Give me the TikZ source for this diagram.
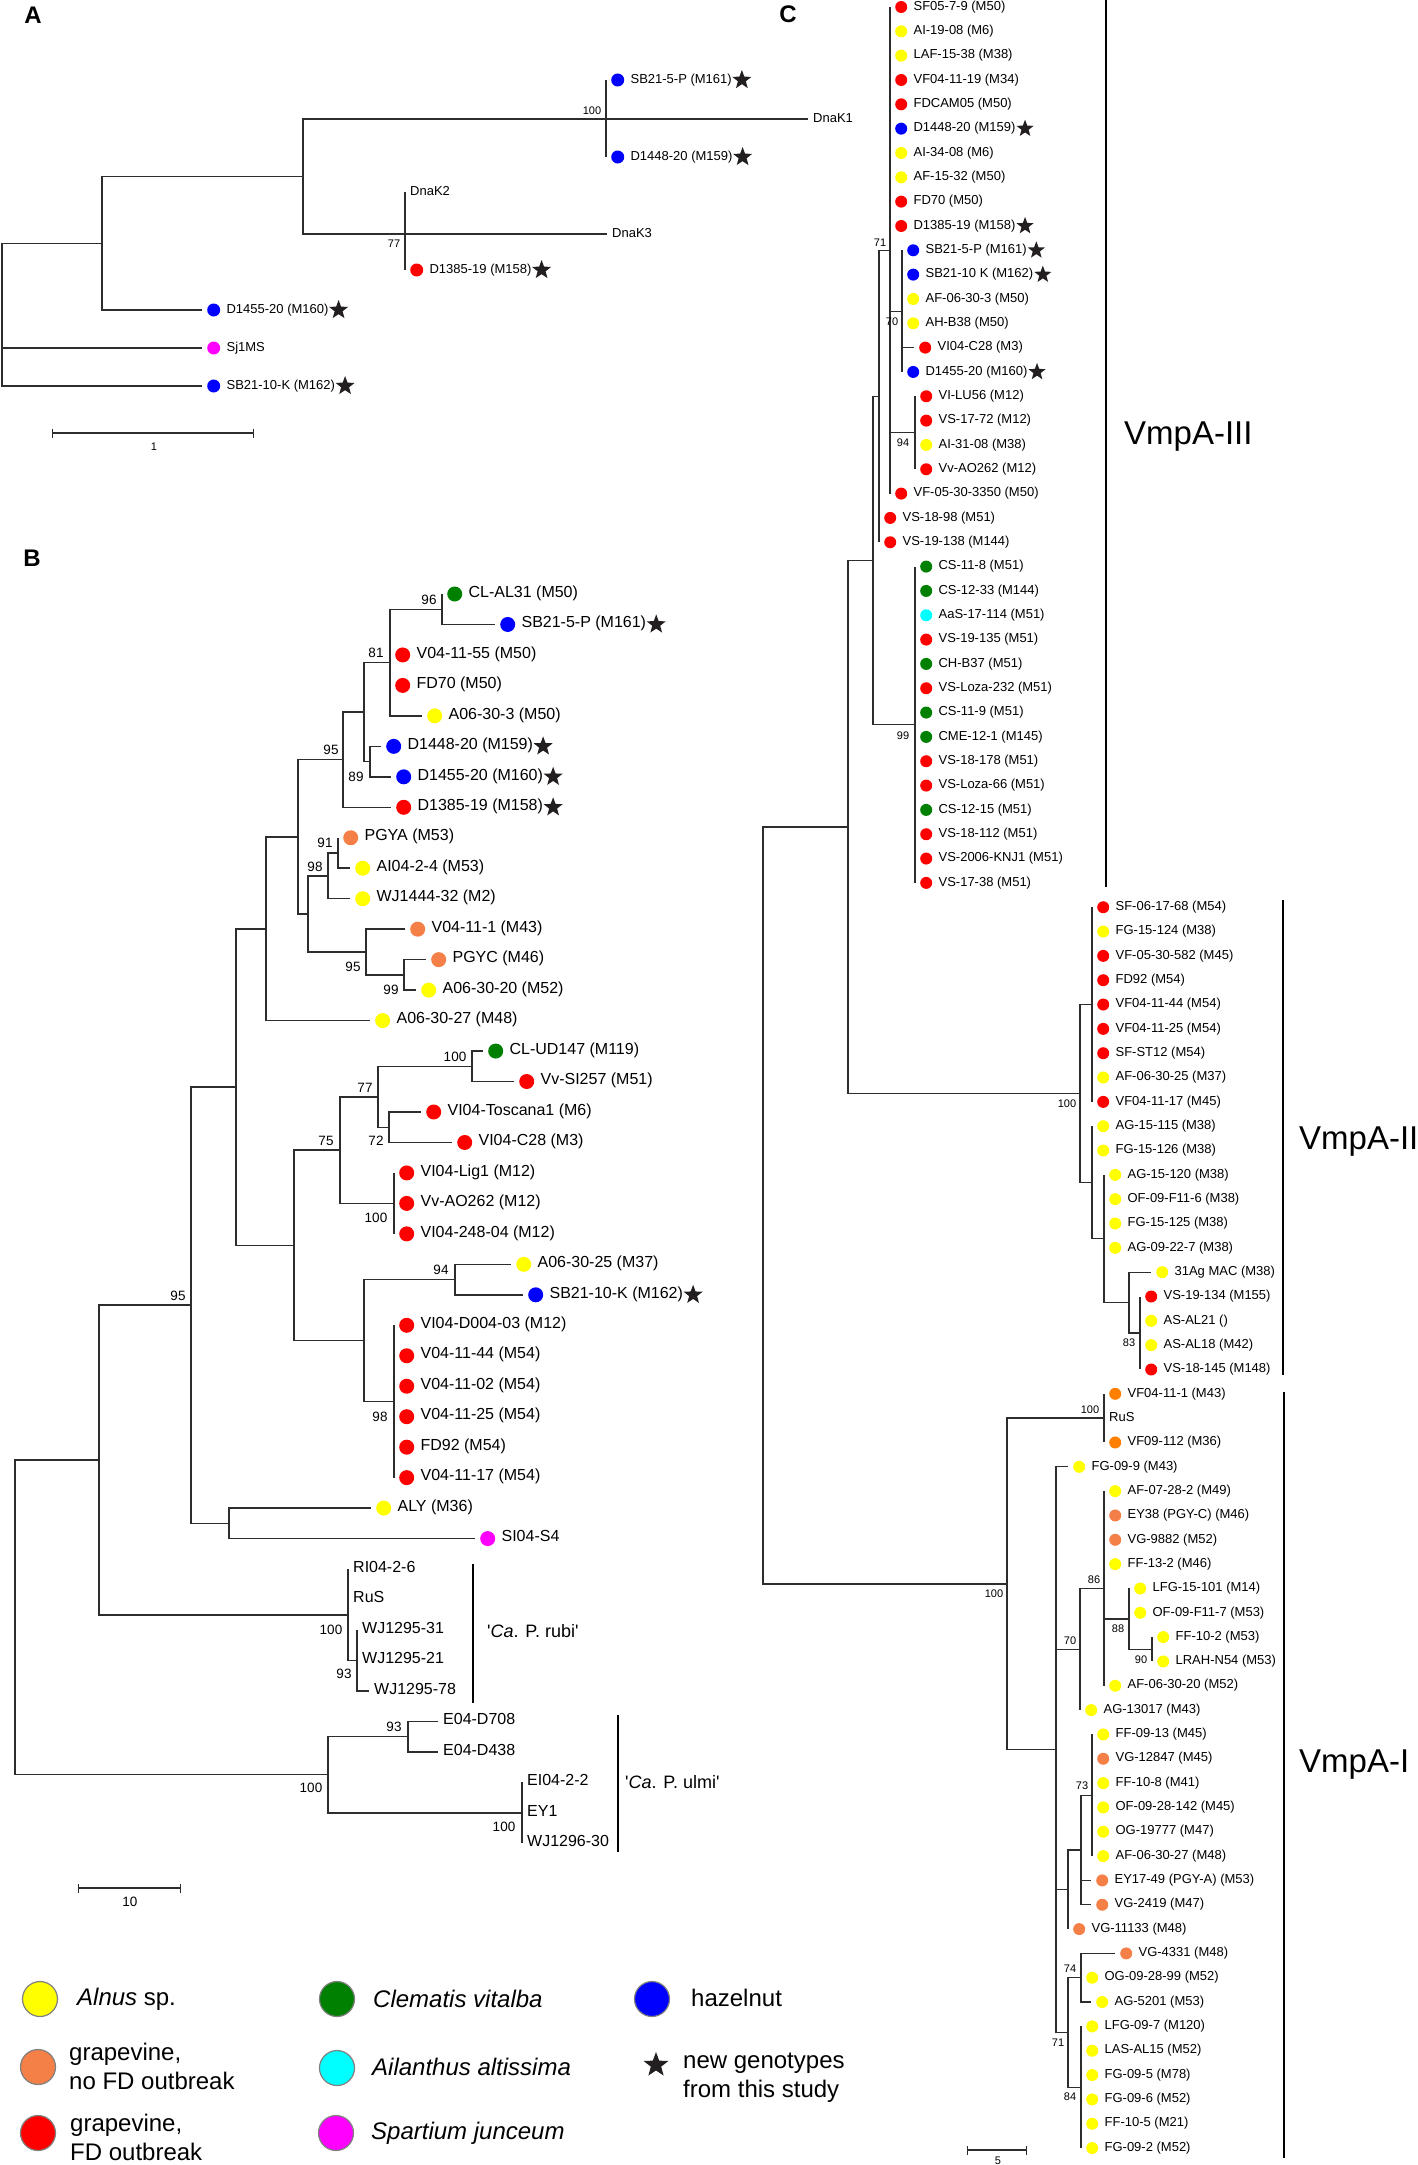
\documentclass[tikz,border=0pt]{standalone}
\usepackage{fontspec}
\setmainfont{Liberation Sans}
\usepackage{tikz}
\usetikzlibrary{shapes.geometric, arrows.meta, positioning}
\definecolor{alnus}{RGB}{255,255,0}
\definecolor{nofd}{RGB}{244,128,72}
\definecolor{nofdb}{RGB}{255,128,0}
\definecolor{fdred}{RGB}{255,0,0}
\definecolor{clem}{RGB}{0,128,0}
\definecolor{ail}{RGB}{0,255,255}
\definecolor{spart}{RGB}{255,0,255}
\definecolor{hazel}{RGB}{0,0,255}
\definecolor{gtblack}{RGB}{35,31,32}
\definecolor{treeline}{RGB}{45,45,45}
\newcommand{\fsz}[1]{\fontsize{#1}{#1}\selectfont}
% tip coordinate, coloured dot, label
\newcommand{\leaf}[4]{%
  \coordinate (#1) at #2;
  \node[dot, fill=#3, right=5pt of #1] (#1-d) {};
  \node[lab, right=6pt of #1-d] (#1-l) {#4};}
% tip coordinate and label only
\newcommand{\bareleaf}[3]{%
  \coordinate (#1) at #2;
  \node[lab, right=5pt of #1] (#1-l) {#3};}

\begin{document}
\begin{tikzpicture}[x=1pt, y=-1pt,
    branch/.style={draw=treeline, line width=1.3pt},
    dot/.style={circle, inner sep=0pt, minimum size=12pt},
    lab/.style={inner sep=0pt, anchor=west, text height=.72em, text depth=.08em},
    boot/.style={inner sep=0pt},
    gt/.style={star, star points=5, star point ratio=2.4, fill=gtblack, inner sep=0pt, minimum size=18pt},
    clade/.style={draw=black, line width=2.2pt},
    scalebar/.style={draw=treeline, line width=1.3pt, arrows={Bar[width=9pt]-Bar[width=9pt]}},
    panel/.style={inner sep=0pt, font=\fsz{24}\bfseries},
    legdot/.style={circle, draw=gray, line width=1.2pt, inner sep=0pt, minimum size=35pt},
    legtext/.style={inner sep=0pt, anchor=west, align=left, font=\fontsize{24}{29}\selectfont}]
\useasboundingbox (0,0) rectangle (1417,2165);

% Panel A
\node[panel] (labA) at (33,15) {A};
\begin{scope}[dot/.append style={minimum size=13pt}, lab/.append style={font=\fsz{13}},
    boot/.append style={font=\fsz{11}}, gt/.append style={minimum size=20pt}]
  \leaf{aSB5}{(606,80)}{hazel}{SB21-5-P (M161)}
  \leaf{aD48}{(606,157)}{hazel}{D1448-20 (M159)}
  \bareleaf{aK1}{(808,119)}{DnaK1}
  \bareleaf{aK2}{(405,192)}{DnaK2}
  \bareleaf{aK3}{(607,234)}{DnaK3}
  \leaf{aD85}{(405,270)}{fdred}{D1385-19 (M158)}
  \leaf{aD55}{(202,310)}{hazel}{D1455-20 (M160)}
  \leaf{aSj}{(202,348)}{spart}{Sj1MS}
  \leaf{aSB10}{(202,386)}{hazel}{SB21-10-K (M162)}
  \foreach \n in {aSB5,aD48,aD85,aD55,aSB10}
    \node[gt, right=4pt of \n-l] (\n-s) {};
  % internal nodes
  \coordinate (nA0) at (2,314.5);
  \coordinate (nA1) at (102,243.5);
  \coordinate (nA2) at (303,176.5);
  \coordinate (nA3) at (606,119);
  \coordinate (nA4) at (405,234);
  \foreach \up/\dn in {nA0/nA1, nA0/aSj, nA0/aSB10, nA1/nA2, nA1/aD55, nA2/aK1, nA2/aK3,
      nA3/aSB5, nA3/aD48, nA4/aK2, nA4/aD85}
    \draw[branch] (\up) |- (\dn);
  \node[boot] (bsA1) at (592,111) {100};
  \node[boot] (bsA2) at (394,244) {77};
  % scale
  \coordinate (sbA0) at (52,433);
  \coordinate (sbA1) at (254,433);
  \draw[scalebar] (sbA0) -- (sbA1);
  \node[boot] (sbA-l) at (154,447) {1};
\end{scope}

% Panel B
\node[panel] (labB) at (32,558) {B};
\begin{scope}[dot/.append style={minimum size=15pt}, lab/.append style={font=\fsz{16}},
    boot/.append style={font=\fsz{13.5}}, gt/.append style={minimum size=20pt},
    branch/.append style={line width=1.5pt}]
  \foreach \i/\x/\col/\txt in {
      0/442/clem/CL-AL31 (M50),
      1/495/hazel/SB21-5-P (M161),
      2/390/fdred/V04-11-55 (M50),
      3/390/fdred/FD70 (M50),
      4/422/alnus/A06-30-3 (M50),
      5/381/hazel/D1448-20 (M159),
      6/391/hazel/D1455-20 (M160),
      7/391/fdred/D1385-19 (M158),
      8/338/nofd/PGYA (M53),
      9/350/alnus/AI04-2-4 (M53),
      10/350/alnus/WJ1444-32 (M2),
      11/405/nofd/V04-11-1 (M43),
      12/426/nofd/PGYC (M46),
      13/416/alnus/A06-30-20 (M52),
      14/370/alnus/A06-30-27 (M48),
      15/483/clem/CL-UD147 (M119),
      16/514/fdred/Vv-SI257 (M51),
      17/421/fdred/VI04-Toscana1 (M6),
      18/452/fdred/VI04-C28 (M3),
      19/394/fdred/VI04-Lig1 (M12),
      20/394/fdred/Vv-AO262 (M12),
      21/394/fdred/VI04-248-04 (M12),
      22/511/alnus/A06-30-25 (M37),
      23/523/hazel/SB21-10-K (M162),
      24/394/fdred/VI04-D004-03 (M12),
      25/394/fdred/V04-11-44 (M54),
      26/394/fdred/V04-11-02 (M54),
      27/394/fdred/V04-11-25 (M54),
      28/394/fdred/FD92 (M54),
      29/394/fdred/V04-11-17 (M54),
      30/371/alnus/ALY (M36),
      31/475/spart/SI04-S4}
    {\leaf{b\i}{(\x,{594+30.47*\i})}{\col}{\txt}}
  \foreach \i/\x/\txt in {
      32/348/RI04-2-6,
      33/348/RuS,
      34/357/WJ1295-31,
      35/357/WJ1295-21,
      36/369/WJ1295-78,
      37/438/E04-D708,
      38/438/E04-D438,
      39/522/EI04-2-2,
      40/522/EY1,
      41/522/WJ1296-30}
    {\bareleaf{b\i}{(\x,{594+30.47*\i})}{\txt}}
  \foreach \i in {1,5,6,7,23}
    \node[gt, right=4pt of b\i-l] (b\i-s) {};
  % internal nodes
  \coordinate (nB96) at (442,609.3);
  \coordinate (nB81) at (390,662.6);
  \coordinate (nB89) at (370,761.6);
  \coordinate (nBx1) at (364,712.1);
  \coordinate (nB95a) at (343,759.7);
  \coordinate (nB91) at (338,853);
  \coordinate (nB98) at (328,875.9);
  \coordinate (nB99) at (404,974.9);
  \coordinate (nB95b) at (366,952.1);
  \coordinate (nBx2) at (308,914);
  \coordinate (nBx3) at (298,836.9);
  \coordinate (nBx4) at (266,928.8);
  \coordinate (nB100a) at (472,1066.3);
  \coordinate (nB72) at (389,1127.3);
  \coordinate (nB77) at (378,1096.8);
  \coordinate (nB100b) at (394,1203.4);
  \coordinate (nB75) at (340,1150.1);
  \coordinate (nB94) at (455,1279.6);
  \coordinate (nB98b) at (394,1401.5);
  \coordinate (nBx5) at (364,1340.5);
  \coordinate (nBx6) at (294,1245.3);
  \coordinate (nBx7) at (236,1087);
  \coordinate (nBx8) at (229,1523.3);
  \coordinate (nB95c) at (191,1305.2);
  \coordinate (nB93r) at (357,1660.5);
  \coordinate (nB100r) at (348,1614.8);
  \coordinate (nBx9) at (99,1460);
  \coordinate (nB93u) at (408,1736.6);
  \coordinate (nB100v) at (522,1812.8);
  \coordinate (nB100u) at (328,1774.7);
  \coordinate (nBroot) at (15,1617.4);
  \foreach \up/\dn in {nB96/b0, nB96/b1, nB81/nB96, nB81/b2, nB81/b3, nB81/b4,
      nB89/b5, nB89/b6, nBx1/nB81, nBx1/nB89, nB95a/nBx1, nB95a/b7,
      nB91/b8, nB91/b9, nB98/nB91, nB98/b10, nB99/b12, nB99/b13,
      nB95b/b11, nB95b/nB99, nBx2/nB98, nBx2/nB95b, nBx3/nB95a, nBx3/nBx2,
      nBx4/nBx3, nBx4/b14, nB100a/b15, nB100a/b16, nB72/b17, nB72/b18,
      nB77/nB100a, nB77/nB72, nB100b/b19, nB100b/b20, nB100b/b21,
      nB75/nB77, nB75/nB100b, nB94/b22, nB94/b23,
      nBx5/nB94, nBx5/nB98b, nBx6/nB75, nBx6/nBx5, nBx7/nBx4, nBx7/nBx6,
      nBx8/b30, nBx8/b31, nB95c/nBx7, nB95c/nBx8,
      nB93r/b34, nB93r/b35, nB93r/b36, nB100r/b32, nB100r/b33, nB100r/nB93r,
      nBx9/nB95c, nBx9/nB100r, nB93u/b37, nB93u/b38,
      nB100v/b39, nB100v/b40, nB100v/b41, nB100u/nB93u, nB100u/nB100v,
      nBroot/nBx9, nBroot/nB100u}
    \draw[branch] (\up) |- (\dn);
  \foreach \i in {24,...,29}
    \draw[branch] (nB98b) |- (b\i);
  % bootstrap values
  \foreach \x/\y/\v [count=\k] in {429/600/96, 376/653/81, 331/750/95, 356/777/89,
      325/843/91, 315/867/98, 353/967/95, 391/990/99, 455/1057/100, 365/1088/77,
      376/1141/72, 326/1141/75, 376/1218/100, 441/1270/94, 178/1296/95, 380/1417/98,
      331/1630/100, 344/1674/93, 394/1727/93, 311/1788/100, 504/1827/100}
    \node[boot] (bsB\k) at (\x,\y) {\v};
  % species brackets
  \coordinate (rubiT) at (473,1564);
  \coordinate (rubiB) at (473,1703);
  \draw[clade] (rubiT) -- (rubiB);
  \node[legtext, font=\fsz{18}] (rubi-l) at (487,1631) {\textquotesingle\textit{Ca}. P. rubi\textquotesingle};
  \coordinate (ulmiT) at (618,1715);
  \coordinate (ulmiB) at (618,1852);
  \draw[clade] (ulmiT) -- (ulmiB);
  \node[legtext, font=\fsz{18}] (ulmi-l) at (625,1782) {\textquotesingle\textit{Ca}. P. ulmi\textquotesingle};
  % scale
  \coordinate (sbB0) at (78,1888);
  \coordinate (sbB1) at (181,1888);
  \draw[scalebar] (sbB0) -- (sbB1);
  \node[boot] (sbB-l) at (130,1902) {10};
\end{scope}

% Panel C
\node[panel] (labC) at (788,14) {C};
\begin{scope}[dot/.append style={minimum size=12pt}, lab/.append style={font=\fsz{13}},
    boot/.append style={font=\fsz{11}}, gt/.append style={minimum size=18pt}]
  \foreach \i/\x/\col/\txt in {
      0/890/fdred/SF05-7-9 (M50),
      1/890/alnus/AI-19-08 (M6),
      2/890/alnus/LAF-15-38 (M38),
      3/890/fdred/VF04-11-19 (M34),
      4/890/fdred/FDCAM05 (M50),
      5/890/hazel/D1448-20 (M159),
      6/890/alnus/AI-34-08 (M6),
      7/890/alnus/AF-15-32 (M50),
      8/890/fdred/FD70 (M50),
      9/890/fdred/D1385-19 (M158),
      10/902/hazel/SB21-5-P (M161),
      11/902/hazel/SB21-10 K (M162),
      12/902/alnus/AF-06-30-3 (M50),
      13/902/alnus/AH-B38 (M50),
      14/914/fdred/VI04-C28 (M3),
      15/902/hazel/D1455-20 (M160),
      16/915/fdred/VI-LU56 (M12),
      17/915/fdred/VS-17-72 (M12),
      18/915/alnus/AI-31-08 (M38),
      19/915/fdred/Vv-AO262 (M12),
      20/890/fdred/VF-05-30-3350 (M50),
      21/879/fdred/VS-18-98 (M51),
      22/879/fdred/VS-19-138 (M144),
      23/915/clem/CS-11-8 (M51),
      24/915/clem/CS-12-33 (M144),
      25/915/ail/AaS-17-114 (M51),
      26/915/fdred/VS-19-135 (M51),
      27/915/clem/CH-B37 (M51),
      28/915/fdred/VS-Loza-232 (M51),
      29/915/clem/CS-11-9 (M51),
      30/915/clem/CME-12-1 (M145),
      31/915/fdred/VS-18-178 (M51),
      32/915/fdred/VS-Loza-66 (M51),
      33/915/clem/CS-12-15 (M51),
      34/915/fdred/VS-18-112 (M51),
      35/915/fdred/VS-2006-KNJ1 (M51),
      36/915/fdred/VS-17-38 (M51),
      37/1092/fdred/SF-06-17-68 (M54),
      38/1092/alnus/FG-15-124 (M38),
      39/1092/fdred/VF-05-30-582 (M45),
      40/1092/fdred/FD92 (M54),
      41/1092/fdred/VF04-11-44 (M54),
      42/1092/fdred/VF04-11-25 (M54),
      43/1092/fdred/SF-ST12 (M54),
      44/1092/alnus/AF-06-30-25 (M37),
      45/1092/fdred/VF04-11-17 (M45),
      46/1092/alnus/AG-15-115 (M38),
      47/1092/alnus/FG-15-126 (M38),
      48/1104/alnus/AG-15-120 (M38),
      49/1104/alnus/OF-09-F11-6 (M38),
      50/1104/alnus/FG-15-125 (M38),
      51/1104/alnus/AG-09-22-7 (M38),
      52/1151/alnus/31Ag MAC (M38),
      53/1140/fdred/VS-19-134 (M155),
      54/1140/alnus/AS-AL21 (),
      55/1140/alnus/AS-AL18 (M42),
      56/1140/fdred/VS-18-145 (M148),
      57/1104/nofdb/VF04-11-1 (M43),
      59/1104/nofdb/VF09-112 (M36),
      60/1068/alnus/FG-09-9 (M43),
      61/1104/alnus/AF-07-28-2 (M49),
      62/1104/nofd/EY38 (PGY-C) (M46),
      63/1104/nofd/VG-9882 (M52),
      64/1104/alnus/FF-13-2 (M46),
      65/1129/alnus/LFG-15-101 (M14),
      66/1129/alnus/OF-09-F11-7 (M53),
      67/1152/alnus/FF-10-2 (M53),
      68/1152/alnus/LRAH-N54 (M53),
      69/1104/alnus/AF-06-30-20 (M52),
      70/1080/alnus/AG-13017 (M43),
      71/1092/alnus/FF-09-13 (M45),
      72/1092/nofd/VG-12847 (M45),
      73/1092/alnus/FF-10-8 (M41),
      74/1092/alnus/OF-09-28-142 (M45),
      75/1092/alnus/OG-19777 (M47),
      76/1092/alnus/AF-06-30-27 (M48),
      77/1091/nofd/EY17-49 (PGY-A) (M53),
      78/1091/nofd/VG-2419 (M47),
      79/1068/nofd/VG-11133 (M48),
      80/1115/nofd/VG-4331 (M48),
      81/1081/alnus/OG-09-28-99 (M52),
      82/1091/alnus/AG-5201 (M53),
      83/1081/alnus/LFG-09-7 (M120),
      84/1081/alnus/LAS-AL15 (M52),
      85/1081/alnus/FG-09-5 (M78),
      86/1081/alnus/FG-09-6 (M52),
      87/1081/alnus/FF-10-5 (M21),
      88/1081/alnus/FG-09-2 (M52)}
    {\leaf{c\i}{(\x,{7+24.33*\i})}{\col}{\txt}}
  \bareleaf{c58}{(1104,{7+24.33*58})}{RuS}
  \foreach \i in {5,9,10,11,15}
    \node[gt, right=4pt of c\i-l] (c\i-s) {};
  % internal nodes
  \coordinate (nCA) at (890,250.3);
  \coordinate (nC70) at (902,311.2);
  \coordinate (nC94) at (915,432.8);
  \coordinate (nC71) at (879,396.3);
  \coordinate (nC99) at (915,724.8);
  \coordinate (nCB) at (873,560.5);
  \coordinate (nCII1) at (1092,1004.6);
  \coordinate (nC83) at (1140,1333);
  \coordinate (nCII3) at (1129,1302.6);
  \coordinate (nCII2) at (1104,1238.7);
  \coordinate (nCII4) at (1092,1182.4);
  \coordinate (nCII) at (1080,1093.5);
  \coordinate (nCC) at (848,827);
  \coordinate (nCI100) at (1104,1418.1);
  \coordinate (nC90) at (1152,1649.3);
  \coordinate (nC88) at (1129,1618.9);
  \coordinate (nC86) at (1104,1588.5);
  \coordinate (nC70I) at (1080,1649.3);
  \coordinate (nC73) at (1092,1795.3);
  \coordinate (nCI5) at (1081,1850);
  \coordinate (nCI6) at (1068,1889.6);
  \coordinate (nC74) at (1081,1977.7);
  \coordinate (nC84) at (1081,2087.2);
  \coordinate (nC71I) at (1068,2032.5);
  \coordinate (nCI4) at (1056,1749.6);
  \coordinate (nCI) at (1007,1583.9);
  \coordinate (nCroot) at (763,1205.4);
  \foreach \i in {0,...,9,20} \draw[branch] (nCA) |- (c\i);
  \foreach \i in {10,...,15} \draw[branch] (nC70) |- (c\i);
  \foreach \i in {16,...,19} \draw[branch] (nC94) |- (c\i);
  \foreach \i in {23,...,36} \draw[branch] (nC99) |- (c\i);
  \foreach \i in {37,...,45} \draw[branch] (nCII1) |- (c\i);
  \foreach \i in {53,...,56} \draw[branch] (nC83) |- (c\i);
  \foreach \i in {48,...,51} \draw[branch] (nCII2) |- (c\i);
  \foreach \i in {57,58,59} \draw[branch] (nCI100) |- (c\i);
  \foreach \i in {61,...,64,69} \draw[branch] (nC86) |- (c\i);
  \foreach \i in {71,...,76} \draw[branch] (nC73) |- (c\i);
  \foreach \i in {80,81,82} \draw[branch] (nC74) |- (c\i);
  \foreach \i in {83,...,88} \draw[branch] (nC84) |- (c\i);
  \foreach \up/\dn in {nCA/nC70, nCA/nC94, nC71/nCA, nC71/c21, nC71/c22,
      nCB/nC71, nCB/nC99, nCII3/c52, nCII3/nC83, nCII2/nCII3,
      nCII4/c46, nCII4/c47, nCII4/nCII2, nCII/nCII1, nCII/nCII4,
      nCC/nCB, nCC/nCII, nC90/c67, nC90/c68, nC88/c65, nC88/c66, nC88/nC90,
      nC86/nC88, nC70I/nC86, nC70I/c70, nCI5/nC73, nCI5/c77, nCI5/c78,
      nCI6/nCI5, nCI6/c79, nC71I/nC74, nC71I/nC84,
      nCI4/c60, nCI4/nC70I, nCI4/nCI6, nCI4/nC71I,
      nCI/nCI100, nCI/nCI4, nCroot/nCC, nCroot/nCI}
    \draw[branch] (\up) |- (\dn);
  % bootstrap values
  \foreach \x/\y/\v [count=\k] in {880/243/71, 892/322/70, 903/443/94, 903/736/99,
      1067/1104/100, 1129/1343/83, 1090/1410/100, 994/1594/100, 1094/1580/86,
      1070/1641/70, 1118/1629/88, 1141/1660/90, 1082/1786/73, 1070/1969/74,
      1058/2043/71, 1070/2097/84}
    \node[boot] (bsC\k) at (\x,\y) {\v};
  % VmpA clusters
  \coordinate (vIIIt) at (1106,0);
  \coordinate (vIIIb) at (1106,887);
  \draw[clade] (vIIIt) -- (vIIIb);
  \node[inner sep=0pt, anchor=west, font=\fsz{33}] (vIII-l) at (1124,437) {VmpA-III};
  \coordinate (vIIt) at (1283,900);
  \coordinate (vIIb) at (1283,1375);
  \draw[clade] (vIIt) -- (vIIb);
  \node[inner sep=0pt, anchor=west, font=\fsz{33}] (vII-l) at (1299,1142) {VmpA-II};
  \coordinate (vIt) at (1284,1392);
  \coordinate (vIb) at (1284,2158);
  \draw[clade] (vIt) -- (vIb);
  \node[inner sep=0pt, anchor=west, font=\fsz{33}] (vI-l) at (1299,1765) {VmpA-I};
  % scale
  \coordinate (sbC0) at (967,2150);
  \coordinate (sbC1) at (1027,2150);
  \draw[scalebar] (sbC0) -- (sbC1);
  \node[boot] (sbC-l) at (998,2161) {5};
\end{scope}

% Legend
\node[legdot, fill=alnus] (lgAlnus) at (40,1999) {};
\node[legtext] (lgAlnus-t) at (77,1999) {\textit{Alnus} sp.};
\node[legdot, fill=nofd] (lgNofd) at (38,2067) {};
\node[legtext] (lgNofd-t) at (69,2066) {grapevine,\\no FD outbreak};
\node[legdot, fill=fdred] (lgFd) at (38,2133) {};
\node[legtext] (lgFd-t) at (70,2137) {grapevine,\\FD outbreak};
\node[legdot, fill=clem] (lgClem) at (337,1999) {};
\node[legtext] (lgClem-t) at (373,1999) {\textit{Clematis vitalba}};
\node[legdot, fill=ail] (lgAil) at (337,2068) {};
\node[legtext] (lgAil-t) at (372,2067) {\textit{Ailanthus altissima}};
\node[legdot, fill=spart] (lgSpart) at (336,2133) {};
\node[legtext] (lgSpart-t) at (371,2133) {\textit{Spartium junceum}};
\node[legdot, fill=hazel] (lgHazel) at (652,1999) {};
\node[legtext] (lgHazel-t) at (691,1998) {hazelnut};
\node[gt, minimum size=26pt] (lgStar) at (656,2065) {};
\node[legtext] (lgStar-t) at (683,2078) {new genotypes\\from this study};
\end{tikzpicture}
\end{document}
